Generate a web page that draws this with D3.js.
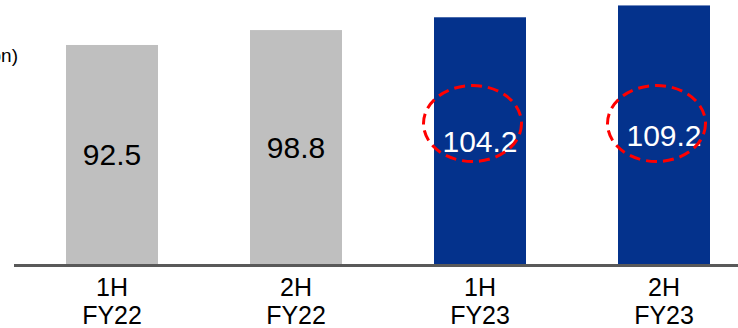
<!DOCTYPE html>
<html>
<head>
<meta charset="utf-8">
<script src="https://cdn.jsdelivr.net/npm/d3@7"></script>
<style>
  html, body { margin: 0; padding: 0; background: #fff; }
  svg { display: block; font-family: "Liberation Sans", Arial, sans-serif; }
</style>
</head>
<body>
<svg id="chart" width="738" height="328"></svg>
<script>
// Half-year results
const periods = ["1H FY22", "2H FY22", "1H FY23", "2H FY23"];
const halfLabels = ["1H", "2H", "1H", "2H"];
const yearLabels = ["FY22", "FY22", "FY23", "FY23"];
const values = [92.5, 98.8, 104.2, 109.2];
const highlighted = [false, false, true, true];
const unitLabel = "(A$bn)";

const svg = d3.select("#chart");
const W = 738, H = 328;
const baseY = 264;

const x = d3.scaleBand()
  .domain(periods)
  .range([20, 756])
  .paddingInner(0.5)
  .paddingOuter(0.25);

const y = d3.scaleLinear()
  .domain([0, 111.5])
  .range([baseY, 0]);

// unit label, running off the left edge
svg.append("text")
  .attr("x", 18).attr("y", 62)
  .attr("text-anchor", "end")
  .attr("font-size", 19)
  .attr("fill", "#000")
  .text(unitLabel);

// bars
svg.selectAll("rect.bar")
  .data(periods)
  .join("rect")
  .attr("class", "bar")
  .attr("x", d => x(d))
  .attr("width", x.bandwidth())
  .attr("y", (d, i) => y(values[i]))
  .attr("height", (d, i) => baseY - y(values[i]))
  .attr("fill", (d, i) => highlighted[i] ? "#04328C" : "#BFBFBF");

// value labels at mid-height of each bar
svg.selectAll("text.val")
  .data(periods)
  .join("text")
  .attr("class", "val")
  .attr("x", d => x(d) + x.bandwidth() / 2)
  .attr("y", (d, i) => (y(values[i]) + baseY) / 2 + 11)
  .attr("text-anchor", "middle")
  .attr("font-size", 30)
  .attr("fill", (d, i) => highlighted[i] ? "#fff" : "#000")
  .text((d, i) => values[i].toFixed(1));

// dashed highlight ellipses on the latest periods
svg.selectAll("ellipse.hl")
  .data(periods.filter((d, i) => highlighted[i]))
  .join("ellipse")
  .attr("class", "hl")
  .attr("cx", d => x(d) + x.bandwidth() / 2 - 7.5)
  .attr("cy", 123.5)
  .attr("rx", 49)
  .attr("ry", 38)
  .attr("fill", "none")
  .attr("stroke", "#FF0000")
  .attr("stroke-width", 3)
  .attr("stroke-dasharray", "11 6");

// category axis
const axisG = svg.append("g").attr("transform", `translate(0,${baseY})`);
axisG.append("line")
  .attr("x1", 14).attr("x2", W)
  .attr("y1", 1.5).attr("y2", 1.5)
  .attr("stroke", "#595959")
  .attr("stroke-width", 3);

const tick = axisG.selectAll("g.tick")
  .data(periods)
  .join("g")
  .attr("class", "tick")
  .attr("transform", d => `translate(${x(d) + x.bandwidth() / 2},0)`);

tick.append("text")
  .attr("y", 32)
  .attr("text-anchor", "middle")
  .attr("font-size", 25)
  .attr("fill", "#000")
  .text((d, i) => halfLabels[i]);

tick.append("text")
  .attr("y", 60)
  .attr("text-anchor", "middle")
  .attr("font-size", 25)
  .attr("fill", "#000")
  .text((d, i) => yearLabels[i]);
</script>
</body>
</html>
